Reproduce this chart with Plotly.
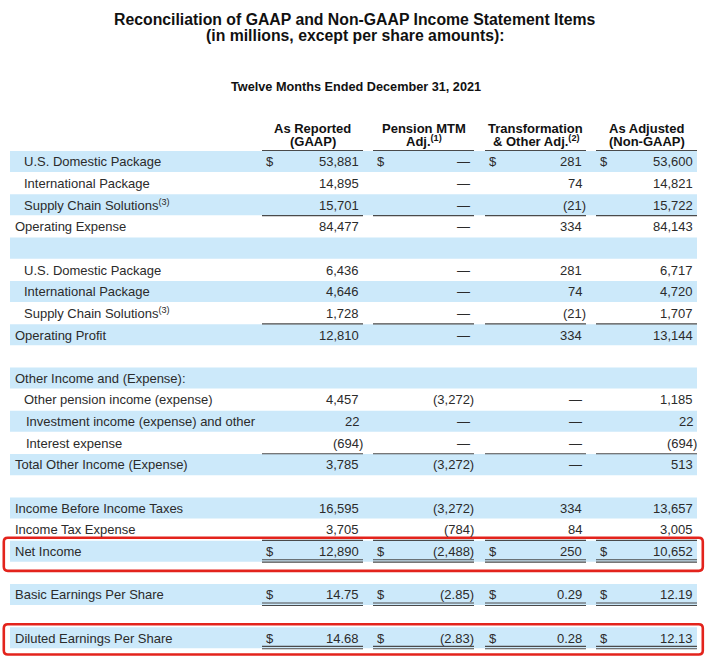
import plotly.graph_objects as go

# ---------------- data ----------------
title_lines = [
    "Reconciliation of GAAP and Non-GAAP Income Statement Items",
    "(in millions, except per share amounts):",
]
period_label = "Twelve Months Ended December 31, 2021"
column_headers = [
    ["As Reported", "(GAAP)"],
    ["Pension MTM", "Adj.<sup>(1)</sup>"],
    ["Transformation", "& Other Adj.<sup>(2)</sup>"],
    ["As Adjusted", "(Non-GAAP)"],
]

row_labels = [
    "U.S. Domestic Package", "International Package", "Supply Chain Solutions<sup>(3)</sup>",
    "Operating Expense", "",
    "U.S. Domestic Package", "International Package", "Supply Chain Solutions<sup>(3)</sup>",
    "Operating Profit", "",
    "Other Income and (Expense):", "Other pension income (expense)",
    "Investment income (expense) and other", "Interest expense",
    "Total Other Income (Expense)", "",
    "Income Before Income Taxes", "Income Tax Expense", "Net Income", "",
    "Basic Earnings Per Share", "", "Diluted Earnings Per Share",
]
row_indent = [1, 1, 1, 0, 0, 1, 1, 1, 0, 0, 0, 1, 2, 2, 0, 0, 0, 0, 0, 0, 0, 0, 0]

as_reported = [53881, 14895, 15701, 84477, None, 6436, 4646, 1728, 12810, None,
               None, 4457, 22, -694, 3785, None, 16595, 3705, 12890, None, 14.75, None, 14.68]
pension_mtm = [0, 0, 0, 0, None, 0, 0, 0, 0, None,
               None, -3272, 0, 0, -3272, None, -3272, -784, -2488, None, -2.85, None, -2.83]
transformation = [281, 74, -21, 334, None, 281, 74, -21, 334, None,
                  None, 0, 0, 0, 0, None, 334, 84, 250, None, 0.29, None, 0.28]
as_adjusted = [53600, 14821, 15722, 84143, None, 6717, 4720, 1707, 13144, None,
               None, 1185, 22, -694, 513, None, 13657, 3005, 10652, None, 12.19, None, 12.13]
series = [as_reported, pension_mtm, transformation, as_adjusted]

per_share_rows = [20, 22]
dollar_rows = [0, 18, 20, 22]
single_rule_above = [3, 8, 14, 18]
double_rule_below = [18, 20, 22]
highlighted_rows = [18, 22]

# ---------------- layout constants ----------------
W, H = 710, 657
ROW_TOP0 = 151.0
ROW_H = 21.65
COL_LEFT = [262, 373, 485, 596]
COL_W = 101
STRIPE_X0, STRIPE_X1 = 10, 697
INDENT_X = {0: 14, 1: 22.5, 2: 25}
FONT = "Arial, Liberation Sans, Helvetica, sans-serif"
TXT = "#2b2b2b"
STRIPE = "#cce9fa"
RULE = "#4a4a4a"
RED = "#e3231c"


def fmt(v, dec):
    if v is None:
        return ""
    if v == 0:
        return "\u2014"
    s = f"{abs(v):,.{dec}f}"
    return f"({s})" if v < 0 else s


def row_top(i):
    return ROW_TOP0 + i * ROW_H


def row_mid(i):
    return row_top(i) + ROW_H / 2


def txt(x, y, text, anchor, size=13, color=TXT):
    return dict(x=x, y=y, text=text, showarrow=False, xanchor=anchor, yanchor="middle",
                borderpad=0, font=dict(family=FONT, size=size, color=color))


shapes = []
annotations = []

# stripes
for i in range(len(row_labels)):
    if i % 2 == 0:
        shapes.append(dict(type="rect", xref="x", yref="y", x0=STRIPE_X0, x1=STRIPE_X1,
                           y0=row_top(i), y1=row_top(i) + ROW_H - 0.6,
                           fillcolor=STRIPE, line=dict(width=0), layer="below"))

# rules
for c in range(4):
    x0, x1 = COL_LEFT[c], COL_LEFT[c] + COL_W
    shapes.append(dict(type="line", xref="x", yref="y", x0=x0, x1=x1,
                       y0=row_top(0) - 0.5, y1=row_top(0) - 0.5, line=dict(color=RULE, width=1.2)))
    for r in single_rule_above:
        y = row_top(r) - 0.3
        shapes.append(dict(type="line", xref="x", yref="y", x0=x0, x1=x1, y0=y, y1=y,
                           line=dict(color=RULE, width=1.1)))
    for r in double_rule_below:
        yb = row_top(r + 1)
        for y in (yb - 2.6, yb - 0.2):
            shapes.append(dict(type="line", xref="x", yref="y", x0=x0, x1=x1, y0=y, y1=y,
                               line=dict(color=RULE, width=1.1)))

# red highlight boxes (rounded)
for r in highlighted_rows:
    y0 = row_top(r) - 3.0
    y1 = row_top(r + 1) + 8.5
    if y1 > H - 2:
        y1 = H - 2.5
    x0, x1, rad = 3.8, 702.8, 4
    path = (f"M {x0+rad},{y0} L {x1-rad},{y0} Q {x1},{y0} {x1},{y0+rad} "
            f"L {x1},{y1-rad} Q {x1},{y1} {x1-rad},{y1} L {x0+rad},{y1} "
            f"Q {x0},{y1} {x0},{y1-rad} L {x0},{y0+rad} Q {x0},{y0} {x0+rad},{y0} Z")
    shapes.append(dict(type="path", xref="x", yref="y", path=path,
                       line=dict(color=RED, width=2.6), fillcolor="rgba(0,0,0,0)"))

# titles
annotations.append(txt(355, 19, f"<b>{title_lines[0]}</b>", "center", 15.8, "#111"))
annotations.append(txt(355, 35, f"<b>{title_lines[1]}</b>", "center", 15.8, "#111"))
annotations.append(txt(356, 87, f"<b>{period_label}</b>", "center", 12.7, "#111"))

# column headers
for c, (l1, l2) in enumerate(column_headers):
    cx = COL_LEFT[c] + COL_W / 2
    annotations.append(txt(cx, 128.5, f"<b>{l1}</b>", "center", 13, "#111"))
    annotations.append(txt(cx, 141, f"<b>{l2}</b>", "center", 13, "#111"))

# row labels
for i, lab in enumerate(row_labels):
    if not lab:
        continue
    annotations.append(txt(INDENT_X[row_indent[i]], row_mid(i), lab, "left"))

# values
for c, vals in enumerate(series):
    right = COL_LEFT[c] + COL_W - 3
    for i, v in enumerate(vals):
        if v is None:
            continue
        dec = 2 if i in per_share_rows else 0
        s = fmt(v, dec)
        x = right + (4.3 if s.endswith(")") else 0)
        annotations.append(txt(x, row_mid(i), s, "right"))
        if i in dollar_rows:
            annotations.append(txt(COL_LEFT[c] + 2.5, row_mid(i), "$", "left"))

fig = go.Figure()
fig.update_layout(
    width=W, height=H,
    margin=dict(l=0, r=0, t=0, b=0, pad=0),
    paper_bgcolor="white", plot_bgcolor="white",
    xaxis=dict(range=[0, W], visible=False, fixedrange=True),
    yaxis=dict(range=[H, 0], visible=False, fixedrange=True),
    shapes=shapes, annotations=annotations,
    showlegend=False,
)
fig.write_html("out.html", config={"displayModeBar": False},
               post_script="document.body.style.margin='0px';document.body.style.overflow='hidden';")
